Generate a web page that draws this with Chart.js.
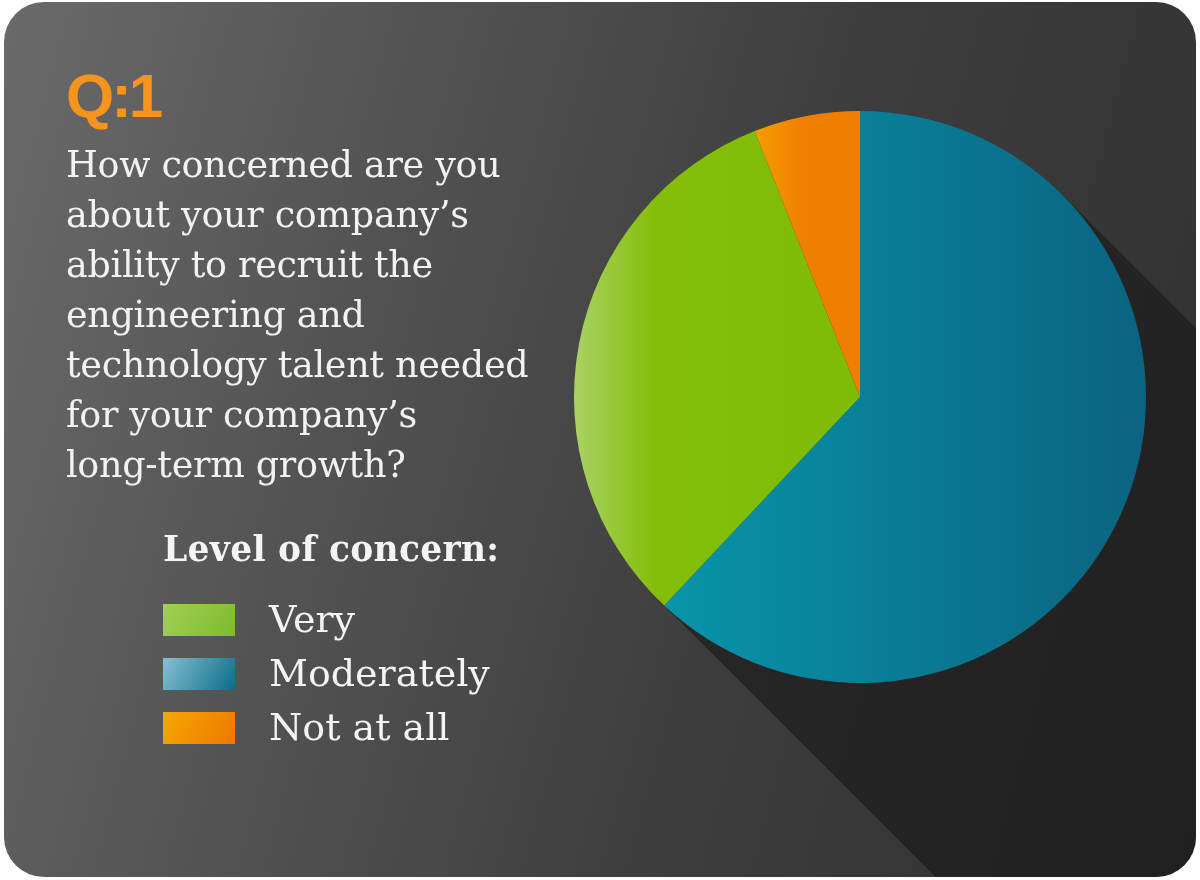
<!DOCTYPE html>
<html>
<head>
<meta charset="utf-8">
<script src="https://cdn.jsdelivr.net/npm/chart.js@4"></script>
<style>
  html, body { margin: 0; padding: 0; background: #fff; }
  #card {
    position: absolute; left: 4px; top: 2px; width: 1192px; height: 875px;
    border-radius: 40px; overflow: hidden;
    background: linear-gradient(105deg, #6a6a6a 0%, #535353 30%, #3d3d3d 62%, #303030 100%);
  }
  #chart { position: absolute; left: 0; top: 0; }
  #q { position: absolute; left: 62px; top: 58px; color: #f7941d;
       font: bold 62px "Liberation Sans", Arial, sans-serif; letter-spacing: -3px; }
  #question { position: absolute; left: 62px; top: 138px; color: #f2f2f2;
       font: 36.5px/50px "DejaVu Serif", serif; letter-spacing: -0.3px; }
  #legendTitle { position: absolute; left: 159px; top: 527px; color: #f4f4f4;
       font: bold 34.5px "DejaVu Serif", serif; letter-spacing: 0.3px; }
  .item { position: absolute; left: 159px; height: 32px; }
  .sw { position: absolute; left: 0; top: 0; width: 72px; height: 32px; }
  .lab { position: absolute; left: 106px; top: -7px; color: #f4f4f4; white-space: nowrap;
         font: 38px "DejaVu Serif", serif; letter-spacing: 0; }
</style>
</head>
<body>
<div id="card">
  <canvas id="chart" width="1192" height="875"></canvas>
  <div id="q">Q:1</div>
  <div id="question">How concerned are you<br>about your company’s<br>ability to recruit the<br>engineering and<br>technology talent needed<br>for your company’s<br>long-term growth?</div>
  <div id="legendTitle">Level of concern:</div>
  <div id="legend"></div>
</div>
<script>
// slice order as drawn clockwise from 12 o'clock
const sliceLabels = ["Moderately", "Very", "Not at all"];
const sliceValues = [62, 32, 6];

// legend order as shown on the left
const legendLabels = ["Very", "Moderately", "Not at all"];
const legendTop = [602, 656, 710];

const sliceStops = {
  "Very": [[0, "#aad264"], [0.14, "#84be0a"], [1, "#78b800"]],
  "Moderately": [[0, "#0aa2b8"], [0.2, "#0892a8"], [1, "#0b6380"]],
  "Not at all": [[0.3, "#f5a400"], [0.4, "#ef7f00"], [1, "#ee7a00"]]
};
const swatchStops = {
  "Very": ["#a3cf55", "#7dbb2e"],
  "Moderately": ["#86c0d2", "#0b6d88"],
  "Not at all": ["#f5a800", "#ee7800"]
};

// legend built from the arrays
const legendEl = document.getElementById("legend");
legendLabels.forEach(function (name, i) {
  const d = document.createElement("div");
  d.className = "item";
  d.style.top = legendTop[i] + "px";
  const s = swatchStops[name];
  d.innerHTML = '<div class="sw" style="background:linear-gradient(120deg,' + s[0] + ',' + s[1] + ')"></div>' +
    '<div class="lab">' + name + '</div>';
  legendEl.appendChild(d);
});

// long flat shadow behind the pie, toward the bottom right
const longShadow = {
  id: "longShadow",
  beforeDatasetsDraw(chart) {
    const arc = chart.getDatasetMeta(0).data[0];
    if (!arc) return;
    const cx = arc.x, cy = arc.y, r = arc.outerRadius;
    const k = r * Math.SQRT1_2, L = 2000;
    const c = chart.ctx;
    c.save();
    c.beginPath();
    c.moveTo(cx + k, cy - k);
    c.lineTo(cx + k + L, cy - k + L);
    c.lineTo(cx - k + L, cy + k + L);
    c.lineTo(cx - k, cy + k);
    c.closePath();
    c.fillStyle = "rgba(20,20,20,0.55)";
    c.fill();
    c.restore();
  }
};

function sliceFill(ctx) {
  const chart = ctx.chart;
  const a = chart.chartArea;
  if (!a) return "#888";
  const name = sliceLabels[ctx.dataIndex];
  const g = chart.ctx.createLinearGradient(a.left, 0, a.right, 0);
  sliceStops[name].forEach(function (st) { g.addColorStop(st[0], st[1]); });
  return g;
}

new Chart(document.getElementById("chart"), {
  type: "pie",
  data: {
    labels: sliceLabels,
    datasets: [{
      data: sliceValues,
      backgroundColor: sliceFill,
      borderWidth: 0
    }]
  },
  options: {
    responsive: false,
    animation: false,
    layout: { padding: { left: 570, right: 50, top: 109, bottom: 194 } },
    plugins: {
      legend: { display: false },
      tooltip: { enabled: false }
    }
  },
  plugins: [longShadow]
});
</script>
</body>
</html>
